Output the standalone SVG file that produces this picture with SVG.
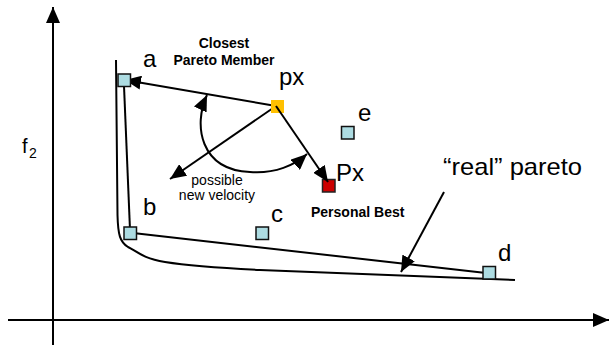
<svg xmlns="http://www.w3.org/2000/svg" width="609" height="345" viewBox="0 0 609 345">
<style>
.ln{fill:none;stroke:#000;stroke-width:2}
.arr{marker-end:url(#ah)}
.pt{fill:#ADDCE2;stroke:#111;stroke-width:1.5}
.lbl{font-family:"Liberation Sans",Arial,sans-serif;font-size:24px;fill:#000}
.bold{font-family:"Liberation Sans",Arial,sans-serif;font-size:14px;font-weight:bold;fill:#000}
.sm{font-family:"Liberation Sans",Arial,sans-serif;font-size:14px;fill:#000}
</style>
<defs>
<marker id="ah" viewBox="0 0 16 14" refX="16" refY="7" markerWidth="16" markerHeight="14" markerUnits="userSpaceOnUse" orient="auto-start-reverse">
<path d="M0,0 L16,7 L0,14 z" fill="#000"/>
</marker>
</defs>
<g id="axes">
<line class="ln arr" x1="53" y1="345" x2="53" y2="7"/>
<line class="ln arr" x1="8" y1="320" x2="609" y2="320"/>
<text class="lbl" x="22" y="153" style="font-size:20px">f</text>
<text class="sm" x="29" y="158">2</text>
</g>
<g id="connectors">
<path class="ln" d="M116,60 L117.5,215 C118,235 120,242 128,247 C138,252 142,258 165,262 C190,266 220,268 260,270 L515,280"/>
<line class="ln" x1="124" y1="86" x2="130" y2="230"/>
<line class="ln" x1="133" y1="233" x2="486" y2="273"/>
<line class="ln arr" x1="276" y1="106" x2="125" y2="80"/>
<line class="ln arr" x1="276" y1="106" x2="170" y2="179"/>
<path class="ln" style="marker-start:url(#ah);marker-end:url(#ah)" d="M207,95 C193,125 200,170 250,172 C275,174 295,165 307,154"/>
<line class="ln arr" x1="444" y1="192" x2="401" y2="272"/>
</g>
<g id="node-a">
<rect class="pt" x="118" y="74" width="12.5" height="12.5"/>
<text class="lbl" x="143" y="67">a</text>
</g>
<g id="node-b">
<rect class="pt" x="124" y="227" width="12.5" height="12.5"/>
<text class="lbl" x="143" y="215">b</text>
</g>
<g id="node-c">
<rect class="pt" x="256" y="227" width="12.5" height="12.5"/>
<text class="lbl" x="271" y="222">c</text>
</g>
<g id="node-d">
<rect class="pt" x="483" y="266.5" width="12.5" height="12.5"/>
<text class="lbl" x="498" y="261">d</text>
</g>
<g id="node-e">
<rect class="pt" x="341.5" y="126.5" width="12.5" height="12.5"/>
<text class="lbl" x="358" y="121">e</text>
</g>
<g id="node-px">
<rect x="271" y="100" width="13" height="13" fill="#FFC000"/>
<text class="lbl" x="279" y="85">px</text>
</g>
<g id="node-Px">
<rect x="322.5" y="179.5" width="12.5" height="12.5" fill="#CC0000" stroke="#222" stroke-width="1.5"/>
<text class="lbl" x="336" y="181">Px</text>
<text class="bold" x="311" y="217">Personal Best</text>
</g>
<line class="ln arr" x1="276" y1="106" x2="328" y2="182"/>
<g id="label-closest">
<text class="bold" x="224" y="48" text-anchor="middle">Closest</text>
<text class="bold" x="224" y="65" text-anchor="middle">Pareto Member</text>
</g>
<g id="label-velocity">
<text class="sm" x="217" y="185" text-anchor="middle">possible</text>
<text class="sm" x="217" y="200" text-anchor="middle">new velocity</text>
</g>
<g id="label-real">
<text class="lbl" x="443" y="175" textLength="139" lengthAdjust="spacingAndGlyphs">“real” pareto</text>
</g>
</svg>
